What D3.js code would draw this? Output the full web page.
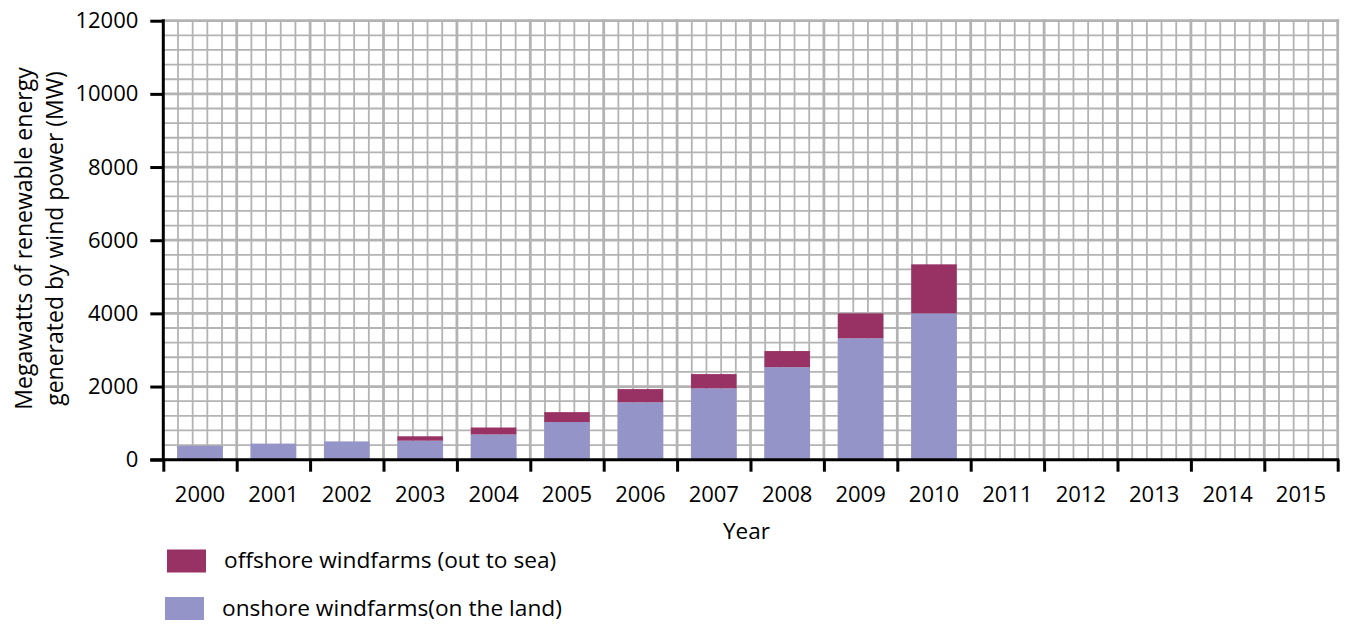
<!DOCTYPE html>
<html>
<head>
<meta charset="utf-8">
<script src="https://cdn.jsdelivr.net/npm/d3@7"></script>
<style>
  body { margin: 0; background: #fff; }
  svg text { font-family: "Open Sans", sans-serif; fill: #000; }
</style>
</head>
<body>
<svg id="chart" width="1348" height="624"></svg>
<script>
// data (MW)
var years = ['2000', '2001', '2002', '2003', '2004', '2005', '2006', '2007', '2008', '2009', '2010', '2011', '2012', '2013', '2014', '2015'];
var onshore = [380, 440, 500, 520, 690, 1030, 1570, 1950, 2530, 3320, 4000, null, null, null, null, null];
var offshore = [0, 0, 0, 120, 190, 270, 360, 390, 440, 680, 1340, null, null, null, null, null];
var yTicks = [0, 2000, 4000, 6000, 8000, 10000, 12000];
var seriesNames = ['offshore windfarms (out to sea)', 'onshore windfarms(on the land)'];
var seriesColors = ['#983264', '#9494c8'];

var svg = d3.select('#chart');
var plotLeft = 163.3, plotRight = 1337.7, plotTop = 20.7, plotBottom = 459.7;

var x = d3.scaleBand().domain(years).range([plotLeft, plotRight]).paddingInner(0.38).paddingOuter(0.19);
var xCol = d3.scaleLinear().domain([0, years.length]).range([plotLeft, plotRight]);
var y = d3.scaleLinear().domain([0, 12000]).range([plotBottom, plotTop]);

// grid: minor every 1/5 column and every 400 MW, major at columns and 2000 MW
var grid = svg.append('g').attr('class', 'grid').attr('stroke', '#b3b3b3');
var vMinor = d3.range(0, years.length * 5 + 1).filter(function (i) { return i % 5 !== 0; });
grid.selectAll('line.vminor').data(vMinor).enter().append('line')
    .attr('x1', function (i) { return xCol(i / 5); }).attr('x2', function (i) { return xCol(i / 5); })
    .attr('y1', y(12000)).attr('y2', y(0)).attr('stroke-width', 1.8);
var hMinor = d3.range(0, 12001, 400).filter(function (v) { return v % 2000 !== 0; });
grid.selectAll('line.hminor').data(hMinor).enter().append('line')
    .attr('y1', function (v) { return y(v); }).attr('y2', function (v) { return y(v); })
    .attr('x1', plotLeft).attr('x2', plotRight).attr('stroke-width', 1.8);
grid.selectAll('line.vmajor').data(d3.range(1, years.length + 1)).enter().append('line')
    .attr('x1', function (i) { return xCol(i); }).attr('x2', function (i) { return xCol(i); })
    .attr('y1', y(12000) - 1.4).attr('y2', y(0)).attr('stroke-width', 2.8);
grid.selectAll('line.hmajor').data(yTicks.slice(1)).enter().append('line')
    .attr('y1', function (v) { return y(v); }).attr('y2', function (v) { return y(v); })
    .attr('x1', plotLeft).attr('x2', plotRight + 1.4).attr('stroke-width', 2.8);

// stacked bars
var rows = years.map(function (yr, i) { return { year: yr, on: onshore[i], off: offshore[i] }; })
    .filter(function (d) { return d.on != null; });
var bars = svg.append('g');
bars.selectAll('rect.on').data(rows).enter().append('rect')
    .attr('x', function (d) { return x(d.year); })
    .attr('width', x.bandwidth())
    .attr('y', function (d) { return y(d.on); })
    .attr('height', function (d) { return y(0) - y(d.on); })
    .attr('fill', seriesColors[1]);
bars.selectAll('rect.off').data(rows.filter(function (d) { return d.off > 0; })).enter().append('rect')
    .attr('x', function (d) { return x(d.year); })
    .attr('width', x.bandwidth())
    .attr('y', function (d) { return y(d.on + d.off); })
    .attr('height', function (d) { return y(d.on) - y(d.on + d.off); })
    .attr('fill', seriesColors[0]);

// y axis
var yAxis = svg.append('g').attr('transform', 'translate(' + plotLeft + ',0)')
    .call(d3.axisLeft(y).tickValues(yTicks).tickSize(13).tickSizeOuter(0).tickPadding(12).tickFormat(d3.format('d')));
yAxis.selectAll('path, line').attr('stroke', '#000').attr('stroke-width', 3);
yAxis.selectAll('text').style('font-size', '22px').style('font-family', '"Open Sans", sans-serif');
yAxis.select('.domain').attr('d', 'M0,' + (y(12000) - 1.5) + 'V' + (y(0) + 1.5));

// x axis: ticks at column edges, labels in the middle
var xAxis = svg.append('g').attr('transform', 'translate(0,' + plotBottom + ')')
    .call(d3.axisBottom(xCol).tickValues(d3.range(0, years.length + 1)).tickSize(12).tickSizeOuter(0).tickFormat(''));
xAxis.selectAll('path, line').attr('stroke', '#000').attr('stroke-width', 3);
xAxis.select('.domain').attr('d', 'M' + (plotLeft - 13) + ',0H' + (plotRight + 1.5));
svg.append('g').selectAll('text').data(years).enter().append('text')
    .attr('x', function (d) { return x(d) + x.bandwidth() / 2; })
    .attr('y', 501.5)
    .attr('text-anchor', 'middle')
    .style('font-size', '22px')
    .text(function (d) { return d; });

svg.append('text').attr('x', (plotLeft + plotRight) / 2 - 4).attr('y', 539)
    .attr('text-anchor', 'middle').style('font-size', '22.5px').text('Year');

var yTitle = svg.append('text').attr('transform', 'translate(0,238.5) rotate(-90)')
    .attr('text-anchor', 'middle').style('font-size', '23px');
yTitle.append('tspan').attr('x', 0).attr('y', 31.5).text('Megawatts of renewable energy');
yTitle.append('tspan').attr('x', 0).attr('y', 62.5).text('generated by wind power (MW)');

// legend
var legend = svg.append('g').selectAll('g').data(seriesNames).enter().append('g')
    .attr('transform', function (d, i) { return 'translate(' + (167 - 2 * i) + ',' + (549.5 + 47.5 * i) + ')'; });
legend.append('rect').attr('width', 39).attr('height', 23)
    .attr('fill', function (d, i) { return seriesColors[i]; });
legend.append('text').attr('x', 57).attr('y', 18.5).style('font-size', '22.7px').text(function (d) { return d; });
</script>
</body>
</html>
